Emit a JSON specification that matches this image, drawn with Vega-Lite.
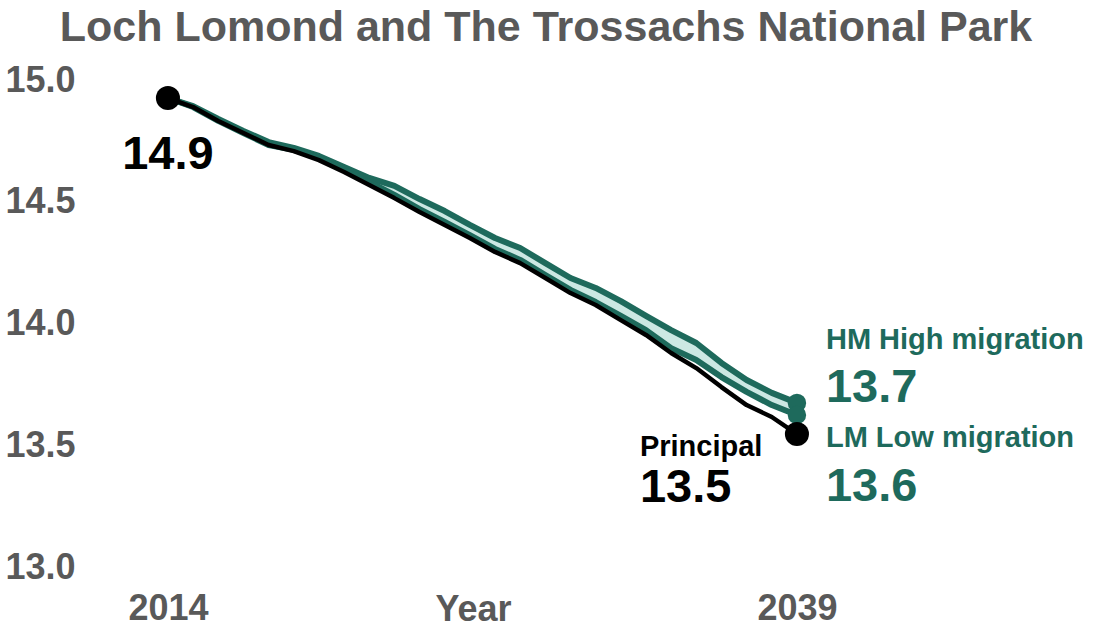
{
  "$schema": "https://vega.github.io/schema/vega-lite/v6.json",
  "autosize": {"type": "none"},
  "padding": {"left": 100, "top": 80, "right": 251, "bottom": 64},
  "width": 746,
  "height": 487,
  "background": "white",
  "config": {
    "view": {"stroke": null},
    "font": "Liberation Sans"
  },
  "title": {
    "text": "Loch Lomond and The Trossachs National Park",
    "font": "Liberation Sans",
    "fontSize": 43,
    "fontWeight": "bold",
    "color": "#595959",
    "anchor": "middle",
    "dx": 73,
    "offset": 12
  },
  "data": {
    "values": [
      {"year": 2014, "series": "Principal", "value": 14.926},
      {"year": 2015, "series": "Principal", "value": 14.889},
      {"year": 2016, "series": "Principal", "value": 14.832},
      {"year": 2017, "series": "Principal", "value": 14.782},
      {"year": 2018, "series": "Principal", "value": 14.733},
      {"year": 2019, "series": "Principal", "value": 14.708},
      {"year": 2020, "series": "Principal", "value": 14.671},
      {"year": 2021, "series": "Principal", "value": 14.622},
      {"year": 2022, "series": "Principal", "value": 14.569},
      {"year": 2023, "series": "Principal", "value": 14.515},
      {"year": 2024, "series": "Principal", "value": 14.458},
      {"year": 2025, "series": "Principal", "value": 14.405},
      {"year": 2026, "series": "Principal", "value": 14.351},
      {"year": 2027, "series": "Principal", "value": 14.294},
      {"year": 2028, "series": "Principal", "value": 14.248},
      {"year": 2029, "series": "Principal", "value": 14.187},
      {"year": 2030, "series": "Principal", "value": 14.125},
      {"year": 2031, "series": "Principal", "value": 14.076},
      {"year": 2032, "series": "Principal", "value": 14.014},
      {"year": 2033, "series": "Principal", "value": 13.953},
      {"year": 2034, "series": "Principal", "value": 13.879},
      {"year": 2035, "series": "Principal", "value": 13.817},
      {"year": 2036, "series": "Principal", "value": 13.739},
      {"year": 2037, "series": "Principal", "value": 13.665},
      {"year": 2038, "series": "Principal", "value": 13.616},
      {"year": 2039, "series": "Principal", "value": 13.546},
      {"year": 2014, "series": "HM High migration", "value": 14.926},
      {"year": 2015, "series": "HM High migration", "value": 14.893},
      {"year": 2016, "series": "HM High migration", "value": 14.840},
      {"year": 2017, "series": "HM High migration", "value": 14.791},
      {"year": 2018, "series": "HM High migration", "value": 14.745},
      {"year": 2019, "series": "HM High migration", "value": 14.721},
      {"year": 2020, "series": "HM High migration", "value": 14.688},
      {"year": 2021, "series": "HM High migration", "value": 14.643},
      {"year": 2022, "series": "HM High migration", "value": 14.598},
      {"year": 2023, "series": "HM High migration", "value": 14.565},
      {"year": 2024, "series": "HM High migration", "value": 14.511},
      {"year": 2025, "series": "HM High migration", "value": 14.462},
      {"year": 2026, "series": "HM High migration", "value": 14.405},
      {"year": 2027, "series": "HM High migration", "value": 14.351},
      {"year": 2028, "series": "HM High migration", "value": 14.310},
      {"year": 2029, "series": "HM High migration", "value": 14.248},
      {"year": 2030, "series": "HM High migration", "value": 14.187},
      {"year": 2031, "series": "HM High migration", "value": 14.146},
      {"year": 2032, "series": "HM High migration", "value": 14.092},
      {"year": 2033, "series": "HM High migration", "value": 14.031},
      {"year": 2034, "series": "HM High migration", "value": 13.973},
      {"year": 2035, "series": "HM High migration", "value": 13.920},
      {"year": 2036, "series": "HM High migration", "value": 13.838},
      {"year": 2037, "series": "HM High migration", "value": 13.768},
      {"year": 2038, "series": "HM High migration", "value": 13.715},
      {"year": 2039, "series": "HM High migration", "value": 13.674},
      {"year": 2014, "series": "LM Low migration", "value": 14.926},
      {"year": 2015, "series": "LM Low migration", "value": 14.889},
      {"year": 2016, "series": "LM Low migration", "value": 14.832},
      {"year": 2017, "series": "LM Low migration", "value": 14.782},
      {"year": 2018, "series": "LM Low migration", "value": 14.733},
      {"year": 2019, "series": "LM Low migration", "value": 14.713},
      {"year": 2020, "series": "LM Low migration", "value": 14.680},
      {"year": 2021, "series": "LM Low migration", "value": 14.630},
      {"year": 2022, "series": "LM Low migration", "value": 14.581},
      {"year": 2023, "series": "LM Low migration", "value": 14.528},
      {"year": 2024, "series": "LM Low migration", "value": 14.470},
      {"year": 2025, "series": "LM Low migration", "value": 14.417},
      {"year": 2026, "series": "LM Low migration", "value": 14.363},
      {"year": 2027, "series": "LM Low migration", "value": 14.306},
      {"year": 2028, "series": "LM Low migration", "value": 14.261},
      {"year": 2029, "series": "LM Low migration", "value": 14.199},
      {"year": 2030, "series": "LM Low migration", "value": 14.138},
      {"year": 2031, "series": "LM Low migration", "value": 14.088},
      {"year": 2032, "series": "LM Low migration", "value": 14.031},
      {"year": 2033, "series": "LM Low migration", "value": 13.973},
      {"year": 2034, "series": "LM Low migration", "value": 13.899},
      {"year": 2035, "series": "LM Low migration", "value": 13.850},
      {"year": 2036, "series": "LM Low migration", "value": 13.780},
      {"year": 2037, "series": "LM Low migration", "value": 13.719},
      {"year": 2038, "series": "LM Low migration", "value": 13.665},
      {"year": 2039, "series": "LM Low migration", "value": 13.624}
    ]
  },
  "encoding": {
    "x": {
      "field": "year",
      "type": "quantitative",
      "scale": {"domain": [2011.3, 2040.95], "nice": false, "zero": false},
      "axis": {
        "values": [2014, 2039],
        "format": "d",
        "title": "Year",
        "grid": false,
        "domain": false,
        "ticks": false,
        "labelFont": "Liberation Sans",
        "labelFontSize": 36,
        "labelFontWeight": "bold",
        "labelColor": "#595959",
        "labelPadding": 24,
        "titleFont": "Liberation Sans",
        "titleFontSize": 36,
        "titleFontWeight": "bold",
        "titleColor": "#595959",
        "titleBaseline": "alphabetic",
        "titleY": 53
      }
    },
    "y": {
      "field": "value",
      "type": "quantitative",
      "scale": {"domain": [13, 15], "nice": false, "zero": false},
      "axis": {
        "values": [13, 13.5, 14, 14.5, 15],
        "format": ".1f",
        "title": null,
        "grid": false,
        "domain": false,
        "ticks": false,
        "labelFont": "Liberation Sans",
        "labelFontSize": 36,
        "labelFontWeight": "bold",
        "labelColor": "#595959",
        "labelPadding": 25
      }
    }
  },
  "layer": [
    {
      "transform": [
        {"filter": "datum.series !== 'Principal'"},
        {"pivot": "series", "value": "value", "groupby": ["year"]}
      ],
      "mark": {"type": "area", "color": "#cce8e3", "opacity": 1},
      "encoding": {
        "y": {"field": "LM Low migration", "type": "quantitative"},
        "y2": {"field": "HM High migration"}
      }
    },
    {
      "transform": [{"filter": "datum.series !== 'Principal'"}],
      "mark": {"type": "line", "color": "#1e6a5c", "strokeWidth": 6, "strokeJoin": "round", "strokeCap": "round"},
      "encoding": {"detail": {"field": "series", "type": "nominal"}}
    },
    {
      "transform": [{"filter": "datum.series === 'Principal'"}],
      "mark": {"type": "line", "color": "#000000", "strokeWidth": 4.5, "strokeJoin": "round", "strokeCap": "round"},
      "encoding": {}
    },
    {
      "transform": [{"filter": "datum.series !== 'Principal' && datum.year === 2039"}],
      "mark": {"type": "circle", "color": "#1e6a5c", "opacity": 1, "size": 340},
      "encoding": {}
    },
    {
      "transform": [{"filter": "datum.series === 'Principal' && (datum.year === 2039 || datum.year === 2014)"}],
      "mark": {"type": "circle", "color": "#000000", "opacity": 1, "size": 580},
      "encoding": {}
    },
    {
      "transform": [{"filter": "datum.series === 'Principal' && datum.year === 2014"}],
      "mark": {"type": "text", "font": "Liberation Sans", "fontSize": 47, "fontWeight": "bold", "color": "#000000", "align": "center", "baseline": "middle", "dy": 57},
      "encoding": {"text": {"field": "value", "type": "quantitative", "format": ".1f"}}
    },
    {
      "transform": [{"filter": "datum.series === 'Principal' && datum.year === 2039"}],
      "mark": {"type": "text", "font": "Liberation Sans", "fontSize": 29, "fontWeight": "bold", "color": "#000000", "align": "left", "baseline": "middle", "dx": -157, "dy": 13},
      "encoding": {"text": {"field": "series", "type": "nominal"}}
    },
    {
      "transform": [{"filter": "datum.series === 'Principal' && datum.year === 2039"}],
      "mark": {"type": "text", "font": "Liberation Sans", "fontSize": 47, "fontWeight": "bold", "color": "#000000", "align": "left", "baseline": "middle", "dx": -157, "dy": 54},
      "encoding": {"text": {"field": "value", "type": "quantitative", "format": ".1f"}}
    },
    {
      "transform": [{"filter": "datum.series === 'HM High migration' && datum.year === 2039"}],
      "mark": {"type": "text", "font": "Liberation Sans", "fontSize": 29, "fontWeight": "bold", "color": "#1e6a5c", "align": "left", "baseline": "middle", "dx": 29, "dy": -63},
      "encoding": {"text": {"field": "series", "type": "nominal"}}
    },
    {
      "transform": [{"filter": "datum.series === 'HM High migration' && datum.year === 2039"}],
      "mark": {"type": "text", "font": "Liberation Sans", "fontSize": 47, "fontWeight": "bold", "color": "#1e6a5c", "align": "left", "baseline": "middle", "dx": 29, "dy": -15},
      "encoding": {"text": {"field": "value", "type": "quantitative", "format": ".1f"}}
    },
    {
      "transform": [{"filter": "datum.series === 'LM Low migration' && datum.year === 2039"}],
      "mark": {"type": "text", "font": "Liberation Sans", "fontSize": 29, "fontWeight": "bold", "color": "#1e6a5c", "align": "left", "baseline": "middle", "dx": 29, "dy": 23},
      "encoding": {"text": {"field": "series", "type": "nominal"}}
    },
    {
      "transform": [{"filter": "datum.series === 'LM Low migration' && datum.year === 2039"}],
      "mark": {"type": "text", "font": "Liberation Sans", "fontSize": 47, "fontWeight": "bold", "color": "#1e6a5c", "align": "left", "baseline": "middle", "dx": 29, "dy": 72},
      "encoding": {"text": {"field": "value", "type": "quantitative", "format": ".1f"}}
    }
  ]
}
